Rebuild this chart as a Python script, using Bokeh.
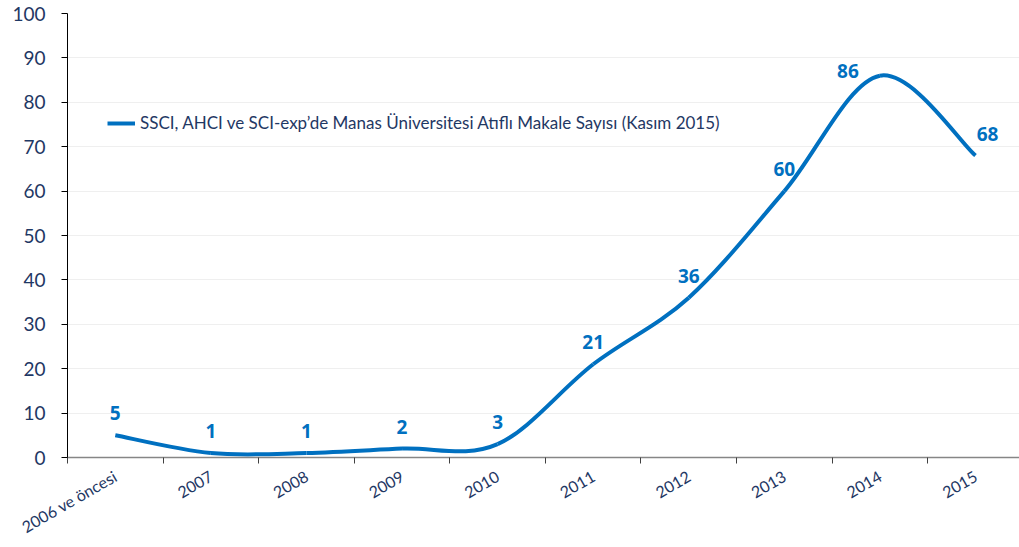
import math
from bokeh.plotting import figure
from bokeh.models import (ColumnDataSource, FixedTicker, LabelSet, Range1d,
                          Legend, LegendItem)
from bokeh.core.properties import value
from bokeh.embed import file_html
from bokeh.resources import INLINE

# ---- data ----
categories = ["2006 ve öncesi", "2007", "2008", "2009", "2010",
              "2011", "2012", "2013", "2014", "2015"]
counts = [5, 1, 1, 2, 3, 21, 36, 60, 86, 68]
series_name = "SSCI, AHCI ve SCI-exp\u2019de Manas Üniversitesi Atıflı Makale Sayısı (Kasım 2015)"

# label nudges (screen px), styling only
label_dx = [0, 0, 0, 0, 0, 0, 0, 0, -32, 12]
label_dy = [22, 22, 22, 22, 22, 22, 22, 22, 5, 22]

LINE = "#0070C0"
NAVY = "#1F3864"
FONT = "Lato"
BOLD_FONT = "Noto Sans"

xs = [i + 0.5 for i in range(len(categories))]

# smoothed line as cubic Bezier segments (Catmull-Rom control points from data)
n = len(xs)
def pt(i):
    i = max(0, min(n - 1, i))
    return xs[i], counts[i]
seg = dict(x0=[], y0=[], x1=[], y1=[], cx0=[], cy0=[], cx1=[], cy1=[])
for i in range(n - 1):
    p0, p1, p2, p3 = pt(i - 1), pt(i), pt(i + 1), pt(i + 2)
    seg["x0"].append(p1[0]); seg["y0"].append(p1[1])
    seg["x1"].append(p2[0]); seg["y1"].append(p2[1])
    seg["cx0"].append(p1[0] + (p2[0] - p0[0]) / 6.0)
    seg["cy0"].append(p1[1] + (p2[1] - p0[1]) / 6.0)
    seg["cx1"].append(p2[0] - (p3[0] - p1[0]) / 6.0)
    seg["cy1"].append(p2[1] - (p3[1] - p1[1]) / 6.0)

p = figure(width=1019, height=547, output_backend="svg", toolbar_location=None,
           x_range=Range1d(0, 9.96), y_range=Range1d(0, 100),
           min_border_left=67, min_border_right=0, min_border_top=13,
           min_border_bottom=89)
p.outline_line_color = None
p.background_fill_color = "white"
p.border_fill_color = "white"

bez = p.bezier(source=ColumnDataSource(seg), x0="x0", y0="y0", x1="x1", y1="y1",
               cx0="cx0", cy0="cy0", cx1="cx1", cy1="cy1",
               line_color=LINE, line_width=4)

lab_src = ColumnDataSource(dict(x=xs, y=counts, t=[str(v) for v in counts],
                                dx=label_dx, dy=label_dy))
labels = LabelSet(x="x", y="y", text="t", source=lab_src, x_offset="dx", y_offset="dy",
                  text_align="center", text_baseline="middle",
                  text_font=value(BOLD_FONT), text_font_style="bold",
                  text_font_size="19px", text_color=LINE)
p.add_layout(labels)

legend = Legend(items=[LegendItem(label=series_name, renderers=[bez], index=0)],
                location=(40, 324), orientation="vertical")
legend.background_fill_alpha = 0
legend.border_line_color = None
legend.padding = 0
legend.margin = 0
legend.glyph_width = 28
legend.label_standoff = 5
legend.label_text_font = FONT
legend.label_text_font_size = "17px"
legend.label_text_color = NAVY
p.add_layout(legend)

# y axis
p.yaxis.ticker = FixedTicker(ticks=list(range(0, 101, 10)))
p.yaxis.axis_line_color = "black"
p.yaxis.major_tick_line_color = "black"
p.yaxis.major_tick_out = 6
p.yaxis.major_tick_in = 0
p.yaxis.minor_tick_line_color = None
p.yaxis.major_label_standoff = 16
p.yaxis.major_label_text_font = FONT
p.yaxis.major_label_text_font_size = "19px"
p.yaxis.major_label_text_color = NAVY

# x axis: labels at centres, ticks at category boundaries
p.xaxis.ticker = FixedTicker(ticks=xs, minor_ticks=list(range(0, n + 1)))
p.xaxis.major_label_overrides = {x: c for x, c in zip(xs, categories)}
p.xaxis.major_tick_line_color = None
p.xaxis.minor_tick_line_color = "#404040"
p.xaxis.minor_tick_out = 6
p.xaxis.minor_tick_in = 0
p.xaxis.axis_line_color = "#868686"
p.xaxis.axis_line_width = 1.5
p.xaxis.major_label_orientation = math.radians(30)
p.xaxis.major_label_standoff = 11
p.xaxis.major_label_text_font = FONT
p.xaxis.major_label_text_font_size = "16px"
p.xaxis.major_label_text_color = NAVY

p.xgrid.grid_line_color = None
p.ygrid.ticker = FixedTicker(ticks=list(range(10, 101, 10)))
p.ygrid.grid_line_color = "#EFEFEF"

open("out.html", "w").write(file_html(p, INLINE))
